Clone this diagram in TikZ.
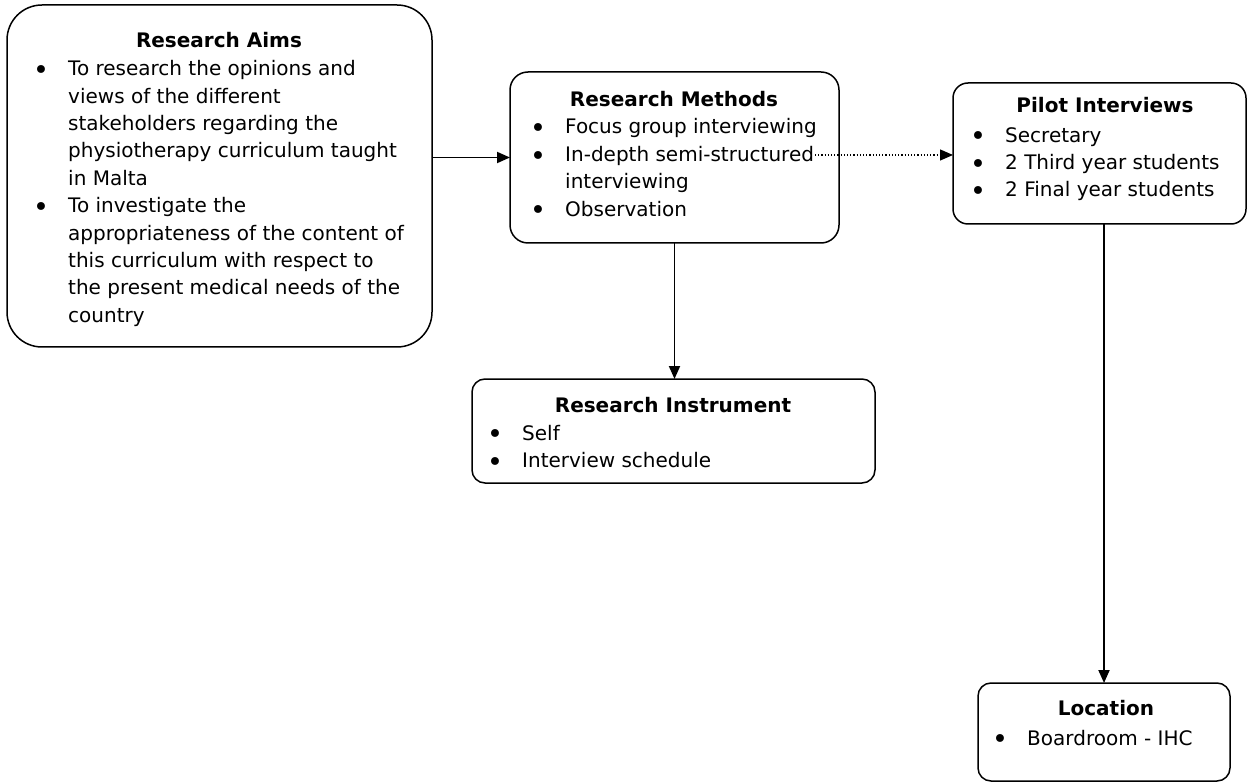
\documentclass[tikz,border=0pt]{standalone}
\usepackage{fontspec}
\setmainfont{DejaVu Sans}
\usetikzlibrary{arrows.meta}

% bullet item and continuation-line indent
\newcommand{\bul}{\strut\makebox[35pt][l]{\raisebox{-3.8pt}{\scalebox{1.35}{\textbullet}}}}
\newcommand{\cnt}{\strut\hspace*{35pt}}

\tikzset{
  box/.style={draw, line width=1.5pt, rounded corners=#1, inner sep=0pt, outer sep=0pt, anchor=north west},
  ttl/.style={font=\bfseries\fontsize{20}{27.4}\selectfont, inner sep=0pt, anchor=base},
  lst/.style={font=\fontsize{20}{27.4}\selectfont, inner sep=0pt, anchor=north west, align=left},
  arr/.style={line width=1.9pt, -{Triangle[length=13pt,width=11pt]}},
  dotarr/.style={line width=1.2pt, dotted, -{Triangle[length=13pt,width=11pt]}},
}

\begin{document}
\begin{tikzpicture}[x=1pt, y=-1pt]
\useasboundingbox (0,0) rectangle (1247,783);

% boxes
\node[box=35pt, minimum width=425pt, minimum height=342pt] (aims) at (7,5) {};
\node[box=18pt, minimum width=329pt, minimum height=171pt] (meth) at (510,72) {};
\node[box=15pt, minimum width=293pt, minimum height=141pt] (pilot) at (953,83) {};
\node[box=13pt, minimum width=403pt, minimum height=104pt] (inst) at (472,379) {};
\node[box=13pt, minimum width=252pt, minimum height=98pt] (loc) at (978,683) {};

% Research Aims
\node[ttl] (aimsT) at (219,48) {Research Aims};
\node[lst] (aimsL) at (33,56.3) {\bul To research the opinions and\\
\cnt views of the different\\
\cnt stakeholders regarding the\\
\cnt physiotherapy curriculum taught\\
\cnt in Malta\\
\bul To investigate the\\
\cnt appropriateness of the content of\\
\cnt this curriculum with respect to\\
\cnt the present medical needs of the\\
\cnt country};

% Research Methods
\node[ttl] (methT) at (674,107) {Research Methods};
\node[lst] (methL) at (530,114.6) {\bul Focus group interviewing\\
\bul In-depth semi-structured\\
\cnt interviewing\\
\bul Observation};

% Pilot Interviews
\node[ttl] (pilotT) at (1105,113) {Pilot Interviews};
\node[lst] (pilotL) at (970,122.8) {\bul Secretary\\
\bul 2 Third year students\\
\bul 2 Final year students};

% Research Instrument
\node[ttl] (instT) at (673,412) {Research Instrument};
\node[lst] (instL) at (487,420.8) {\bul Self\\
\bul Interview schedule};

% Location
\node[ttl] (locT) at (1106,715) {Location};
\node[lst] (locL) at (992,725.8) {\bul Boardroom - IHC};

% connectors
\coordinate (dstart) at (815,155);
\draw[arr] (aims.east |- meth.west) -- (meth.west);
\draw[dotarr] (dstart) -- (dstart -| pilot.west);
\draw[arr] (meth.south) -- (meth.south |- inst.north);
\draw[arr] (pilot.south -| loc.north) -- (loc.north);
\end{tikzpicture}
\end{document}
